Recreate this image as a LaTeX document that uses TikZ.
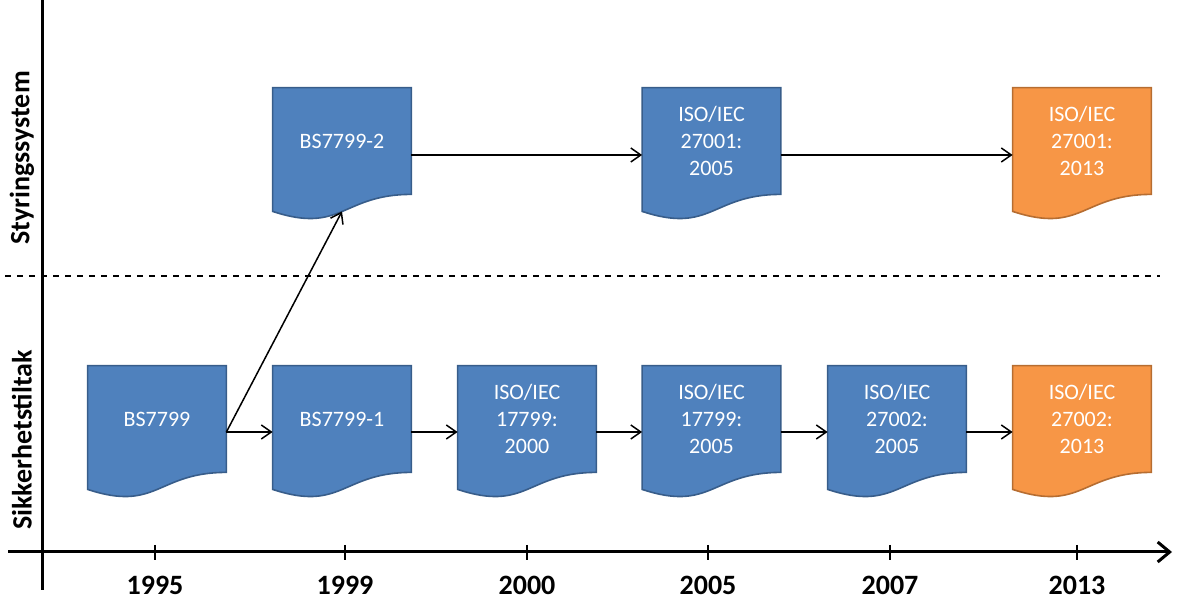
\documentclass[tikz,border=0pt]{standalone}
\usepackage{fontspec}
\setmainfont{Carlito}
\usetikzlibrary{arrows.meta, positioning, backgrounds}
\definecolor{docblue}{HTML}{4F81BD}
\definecolor{docblueline}{HTML}{385D8A}
\definecolor{docorange}{HTML}{F79646}
\definecolor{docorangeline}{HTML}{B66D31}

% document shape behind a named box node
\newcommand{\docshape}[2]{%
  \path[#2] (#1.north west) -- (#1.north east) -- (#1.south east)
    .. controls (#1.south) and ([yshift=-20pt]#1.south)
    .. ([yshift=-8.5pt]#1.south west) -- cycle;}

\begin{document}
\begin{tikzpicture}[
      x=0.5pt, y=0.5pt,
      docbox/.style={rectangle, minimum width=69pt, minimum height=53pt, inner sep=0pt,
        align=center, text=white, font=\fontsize{11}{13.5}\selectfont},
      bluedoc/.style={fill=docblue, draw=docblueline, line width=0.8pt},
      orangedoc/.style={fill=docorange, draw=docorangeline, line width=0.8pt},
      arr/.style={draw, line width=0.75pt, -{Straight Barb[length=5pt, width=7pt]}},
      axis/.style={line width=1.5pt},
      year/.style={font=\fontsize{14}{16}\selectfont\bfseries},
      lane/.style={font=\fontsize{14}{16}\selectfont\bfseries, rotate=90}
  ]
  \useasboundingbox (0,0) rectangle (1177,603);

  % lower row
  \node [docbox] (bs7799) at (157,184) {BS7799};
  \node [docbox] (bs7799one) at (342,184) {BS7799-1};
  \node [docbox] (iso17799y2000) at (527,184) {ISO/IEC\\17799:\\2000};
  \node [docbox] (iso17799y2005) at (711.5,184) {ISO/IEC\\17799:\\2005};
  \node [docbox] (iso27002y2005) at (897,184) {ISO/IEC\\27002:\\2005};
  \node [docbox] (iso27002y2013) at (1082,184) {ISO/IEC\\27002:\\2013};

  % upper row
  \node [docbox] (bs7799two) at (342,462) {BS7799-2};
  \node [docbox] (iso27001y2005) at (711.5,462) {ISO/IEC\\27001:\\2005};
  \node [docbox] (iso27001y2013) at (1082,462) {ISO/IEC\\27001:\\2013};

  \begin{scope}[on background layer]
    \docshape{bs7799}{bluedoc}
    \docshape{bs7799one}{bluedoc}
    \docshape{iso17799y2000}{bluedoc}
    \docshape{iso17799y2005}{bluedoc}
    \docshape{iso27002y2005}{bluedoc}
    \docshape{iso27002y2013}{orangedoc}
    \docshape{bs7799two}{bluedoc}
    \docshape{iso27001y2005}{bluedoc}
    \docshape{iso27001y2013}{orangedoc}
  \end{scope}

  \path [arr] ([yshift=-6.5pt]bs7799.east) -- ([yshift=-6.5pt]bs7799one.west);
  \path [arr] ([yshift=-6.5pt]bs7799one.east) -- ([yshift=-6.5pt]iso17799y2000.west);
  \path [arr] ([yshift=-6.5pt]iso17799y2000.east) -- ([yshift=-6.5pt]iso17799y2005.west);
  \path [arr] ([yshift=-6.5pt]iso17799y2005.east) -- ([yshift=-6.5pt]iso27002y2005.west);
  \path [arr] ([yshift=-6.5pt]iso27002y2005.east) -- ([yshift=-6.5pt]iso27002y2013.west);
  \path [arr] ([yshift=-6.5pt]bs7799.east) -- ([yshift=-8.5pt]bs7799two.south);
  \path [arr] ([yshift=-7pt]bs7799two.east) -- ([yshift=-7pt]iso27001y2005.west);
  \path [arr] ([yshift=-7pt]iso27001y2005.east) -- ([yshift=-7pt]iso27001y2013.west);

  % axes
  \coordinate (xstart) at (8,51);
  \coordinate (xend) at (1172,51);
  \coordinate (ytop) at (42,603);
  \coordinate (ybottom) at (42,13);
  \draw [axis, -{Straight Barb[length=6pt, width=10pt]}] (xstart) -- (xend);
  \draw [axis] (ytop) -- (ybottom);
  \draw [dashed, line width=0.6pt] (5,327) -- (1160,327);

  \foreach \x/\yr in {155/1995, 345/1999, 527/2000, 708/2005, 890/2007, 1077/2013} {
    \draw [line width=0.75pt] (\x,58) -- (\x,43);
    \node [year] at (\x,18) {\yr};
  }

  \node [lane] (styring) at (22,445) {Styringssystem};
  \node [lane] (sikkerhet) at (22,163) {Sikkerhetstiltak};

\end{tikzpicture}
\end{document}
